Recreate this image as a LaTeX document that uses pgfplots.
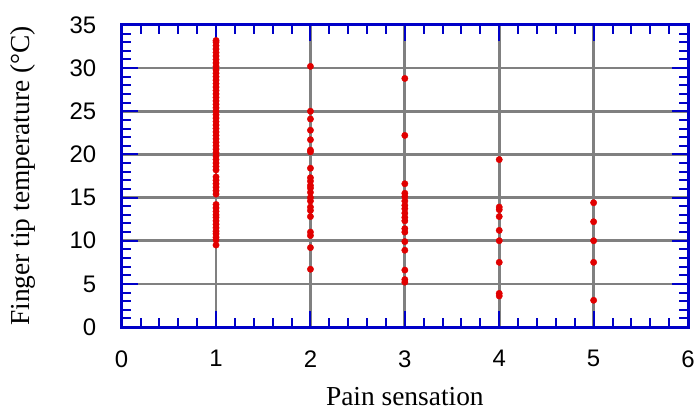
\documentclass[border=0pt]{standalone}
\usepackage{pgfplots}
\pgfplotsset{compat=1.18}
\usepackage{fontspec}
\setmainfont{Liberation Sans}
\newfontfamily\labelfont{Liberation Serif}
\definecolor{frameblue}{RGB}{0,0,200}
\definecolor{dotred}{RGB}{225,0,0}
\definecolor{gridgray}{RGB}{128,128,128}

\pgfplotstableread{
x y
1 9.5
1 10.1
1 10.4
1 10.8
1 11.1
1 11.5
1 11.9
1 12.3
1 12.7
1 13.0
1 13.4
1 13.8
1 14.2
1 15.4
1 15.8
1 16.2
1 16.6
1 17.0
1 17.4
1 18.2
1 18.6
1 19.0
1 19.4
1 19.8
1 20.2
1 20.6
1 21.0
1 21.4
1 21.8
1 22.2
1 22.6
1 23.0
1 23.4
1 23.8
1 24.2
1 24.6
1 25.0
1 25.4
1 25.8
1 26.2
1 26.6
1 27.0
1 27.4
1 27.8
1 28.2
1 28.6
1 29.0
1 29.4
1 29.8
1 30.2
1 30.6
1 31.0
1 31.4
1 31.8
1 32.2
1 32.6
1 33.0
1 33.2
2 30.2
2 25.0
2 24.1
2 22.8
2 21.7
2 20.5
2 20.3
2 18.4
2 17.3
2 16.9
2 16.4
2 16.1
2 15.6
2 15.0
2 14.6
2 13.9
2 13.5
2 12.8
2 11.0
2 10.6
2 9.2
2 6.7
3 28.8
3 22.2
3 16.6
3 15.5
3 15.1
3 14.6
3 14.1
3 13.7
3 13.2
3 12.7
3 12.3
3 11.4
3 11.0
3 9.9
3 8.9
3 6.6
3 5.5
3 5.2
4 19.4
4 13.9
4 13.6
4 12.8
4 11.2
4 10.0
4 7.5
4 3.9
4 3.6
5 14.4
5 12.2
5 10.0
5 7.5
5 3.1
}\pain

\begin{document}
\begin{tikzpicture}
\begin{axis}[
  scale only axis,
  width=568pt, height=303pt,
  xmin=0, xmax=6, ymin=0, ymax=35,
  xtick={0,1,...,6}, ytick={0,5,...,35},
  minor x tick num=4, minor y tick num=4,
  tick align=inside,
  major tick length=16pt, minor tick length=9pt,
  tick style={frameblue, line width=2pt},
  axis line style={frameblue, line width=3pt},
  grid=major,
  major grid style={gridgray, line width=2.8pt},
  /pgf/number format/assume math mode=true,
  tick label style={font=\fontsize{24}{24}\selectfont},
  xticklabel style={yshift=-20pt},
  yticklabel style={xshift=-22pt},
  xlabel={\labelfont Pain sensation},
  ylabel={\labelfont Finger tip temperature (°C)},
  label style={font=\fontsize{27.5}{28}\selectfont},
  xlabel style={yshift=-13pt},
  ylabel style={yshift=27pt},
  clip=false,
]
\addplot[only marks, mark=*, mark size=3.2pt, mark options={fill=dotred, draw=dotred}] table[x=x, y=y] {\pain};
\path (rel axis cs:0,0) ++(-122pt,-88pt) (rel axis cs:1,1) ++(8pt,25pt);
\end{axis}
\end{tikzpicture}
\end{document}
